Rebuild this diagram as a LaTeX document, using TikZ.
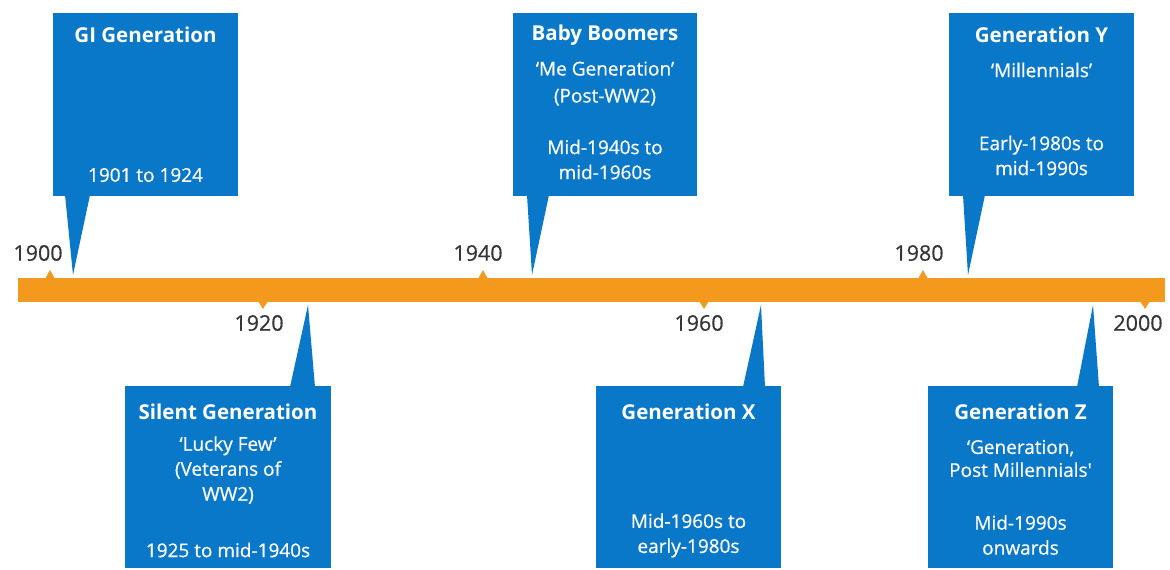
\documentclass[tikz,border=0pt]{standalone}
\usepackage{fontspec}
\setmainfont{Open Sans}
\newfontfamily\bodyfont[FakeBold=0.6]{Open Sans}
\usetikzlibrary{calc}
\definecolor{boxblue}{HTML}{0A78C8}
\definecolor{barorange}{HTML}{F39A1E}
\definecolor{yeargray}{HTML}{363636}
\tikzset{
  genbox/.style={fill=boxblue, draw=none, inner sep=0pt},
  topbox/.style={genbox, minimum width=185pt, minimum height=183pt},
  botbox/.style={genbox, minimum width=185pt, minimum height=182pt},
  ttl/.style={text=white, font=\bfseries\fontsize{20.5}{24}\selectfont, inner sep=0pt},
  body/.style={text=white, font=\bodyfont\fontsize{19}{25}\selectfont, align=center, inner sep=0pt},
  year/.style={text=yeargray, font=\bodyfont\fontsize{21.5}{24}\selectfont, inner sep=0pt},
  pointer/.style={fill=boxblue},
  tick/.style={fill=barorange},
}
\begin{document}
\begin{tikzpicture}[x=1pt,y=1pt]
\useasboundingbox (0,0) rectangle (1170,570);
% timeline bar
\node[fill=barorange, minimum width=1147pt, minimum height=24pt, inner sep=0pt] (bar) at (591.5,280) {};
% ticks
\foreach \x/\n in {50/a,483/b,923/c}{
  \coordinate (up\n) at (\x,300);
  \fill[tick] (\x-5,291) -- (up\n) -- (\x+5,291) -- cycle;
}
\foreach \x/\n in {263/a,704/b,1145/c}{
  \coordinate (dn\n) at (\x,261);
  \fill[tick] (\x-5,269) -- (dn\n) -- (\x+5,269) -- cycle;
}
% year labels
\node[year] (y1900) at (38,317) {1900};
\node[year] (y1940) at (478,317) {1940};
\node[year] (y1980) at (919,317) {1980};
\node[year] (y1920) at (259,247) {1920};
\node[year] (y1960) at (699,247) {1960};
\node[year] (y2000) at (1138,247) {2000};

% top boxes
\node[topbox] (gi) at (145.5,465.5) {};
\node[topbox, minimum width=184pt] (bb) at (605,465.5) {};
\node[topbox] (gy) at (1041.5,465.5) {};
% bottom boxes
\node[botbox, minimum width=206pt] (sg) at (228,93) {};
\node[botbox] (gx) at (688.5,93) {};
\node[botbox] (gz) at (1020.5,93) {};

% pointers
\coordinate (giTip) at (73,295);
\coordinate (bbTip) at (532,295);
\coordinate (gyTip) at (968,295);
\coordinate (sgTip) at (308,265);
\coordinate (gxTip) at (761,265);
\coordinate (gzTip) at (1093,265);
\fill[pointer] (65,375) -- (giTip) -- (90,375) -- cycle;
\fill[pointer] (527,375) -- (bbTip) -- (549,375) -- cycle;
\fill[pointer] (963,375) -- (gyTip) -- (985,375) -- cycle;
\fill[pointer] (290,183) -- (sgTip) -- (315,183) -- cycle;
\fill[pointer] (743,183) -- (gxTip) -- (765,183) -- cycle;
\fill[pointer] (1077,183) -- (gzTip) -- (1099,183) -- cycle;

% texts
\node[ttl] (giT) at (145.5,535) {GI Generation};
\node[body] (giD) at (145.5,395) {1901 to 1924};

\node[ttl] (bbT) at (605,535) {Baby Boomers};
\node[body, font=\bodyfont\fontsize{19}{27}\selectfont] (bbN) at (605,486.5) {‘Me Generation’\\(Post-WW2)};
\node[body] (bbD) at (605,410.5) {Mid-1940s to\\mid-1960s};

\node[ttl] (gyT) at (1041.5,535) {Generation Y};
\node[body] (gyN) at (1041.5,500) {‘Millennials’};
\node[body] (gyD) at (1041.5,414.5) {Early-1980s to\\mid-1990s};

\node[ttl] (sgT) at (228,158) {Silent Generation};
\node[body] (sgN) at (228,100) {‘Lucky Few’\\(Veterans of\\WW2)};
\node[body] (sgD) at (228,20) {1925 to mid-1940s};

\node[ttl] (gxT) at (688.5,158) {Generation X};
\node[body] (gxD) at (688.5,34.5) {Mid-1960s to\\early-1980s};

\node[ttl] (gzT) at (1020.5,158) {Generation Z};
\node[body, font=\bodyfont\fontsize{19}{23}\selectfont] (gzN) at (1020.5,111.5) {‘Generation,\\Post Millennials\textquotesingle};
\node[body] (gzD) at (1020.5,35) {Mid-1990s\\onwards};
\end{tikzpicture}
\end{document}
